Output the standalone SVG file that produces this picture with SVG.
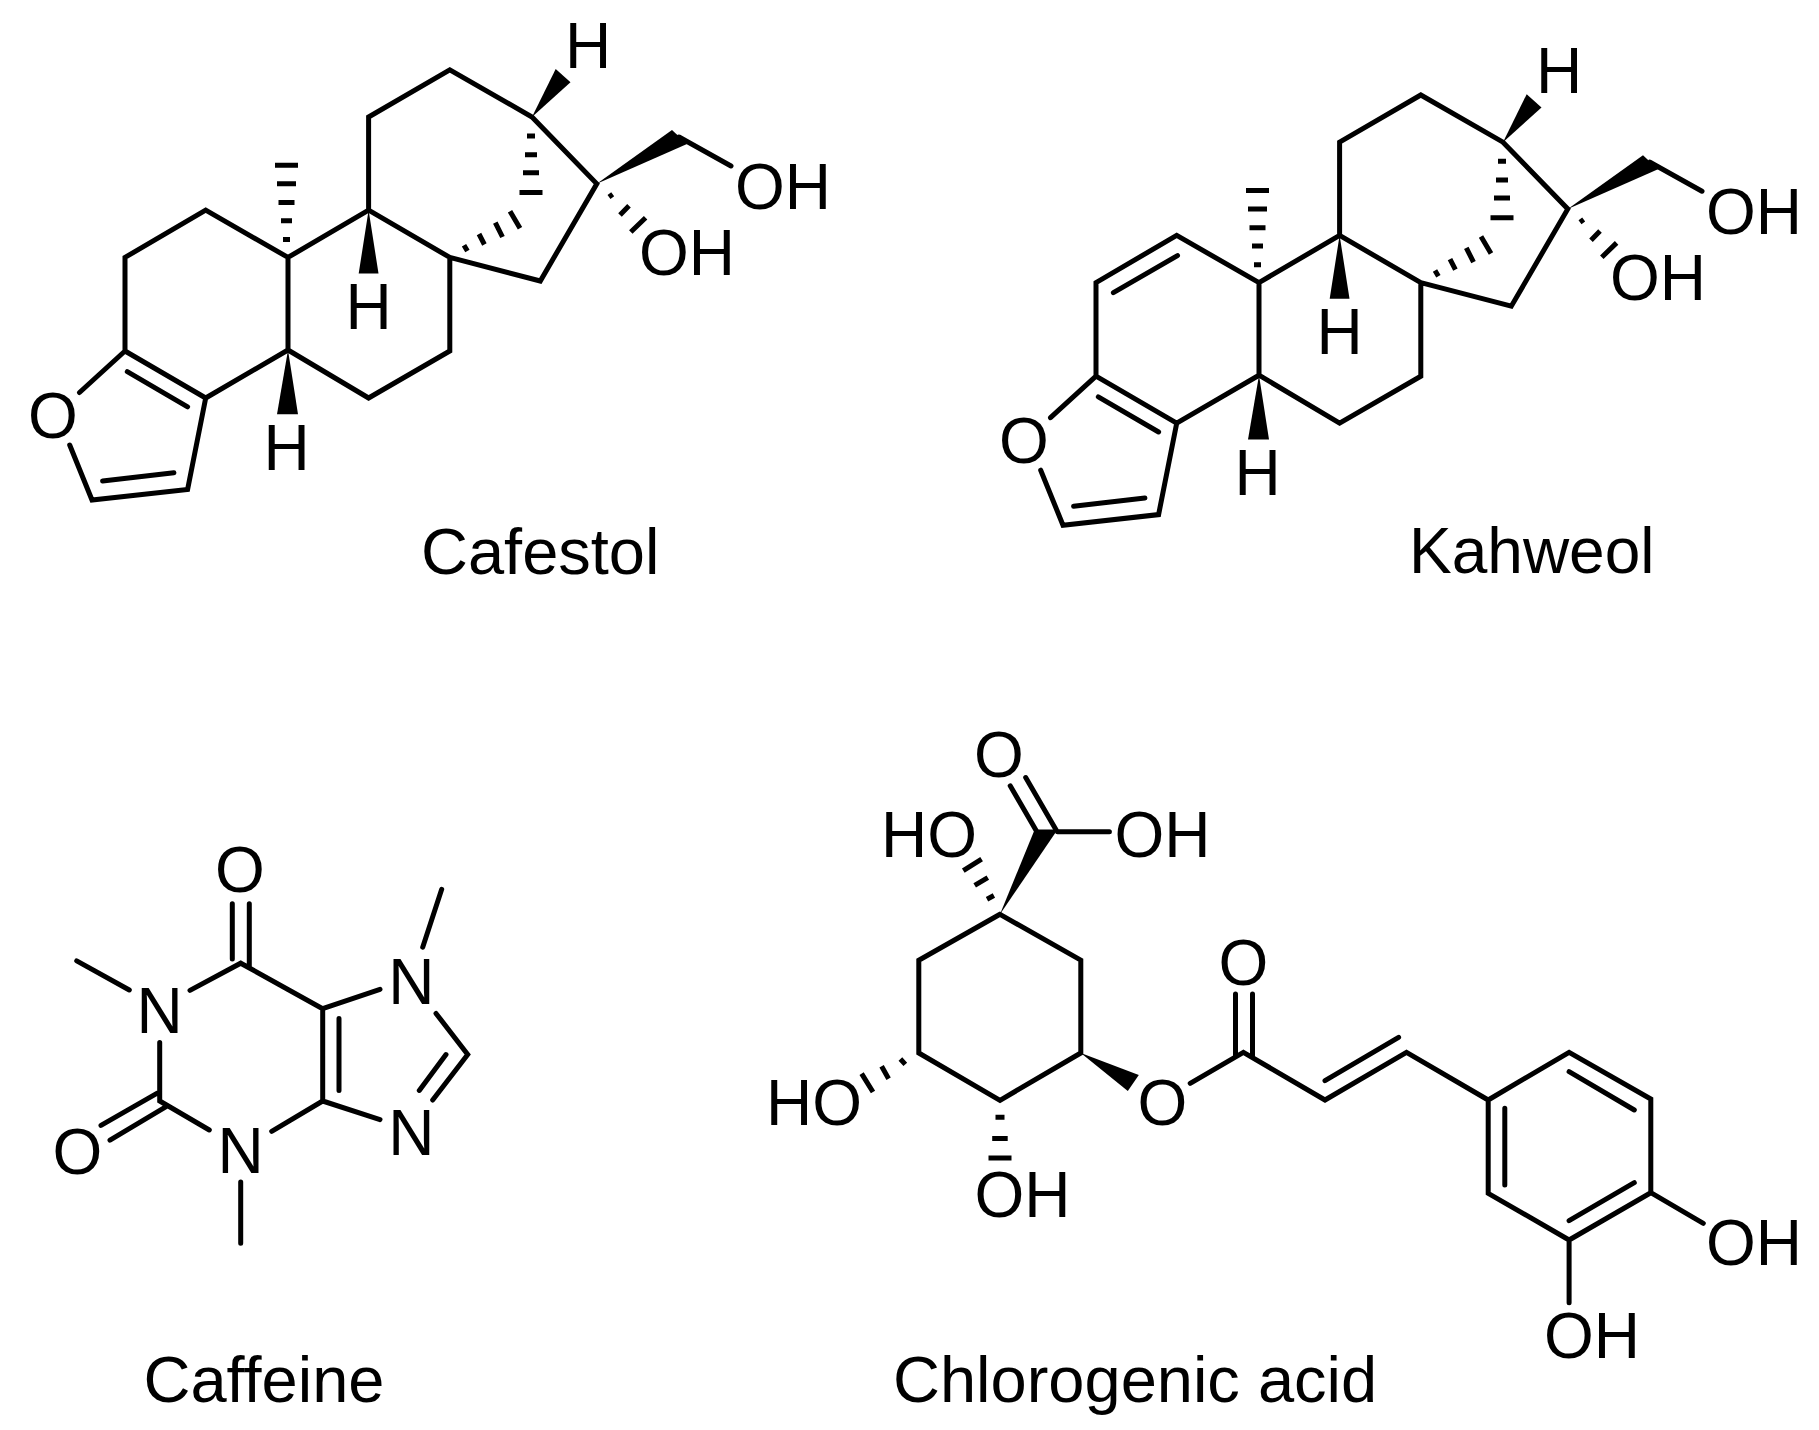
<svg xmlns="http://www.w3.org/2000/svg" width="1819" height="1430" viewBox="0 0 1819 1430">
<style>
.b{fill:none;stroke:#000;stroke-width:5;stroke-linecap:round;stroke-linejoin:miter}
.h{fill:none;stroke:#000;stroke-width:5;stroke-linecap:butt}
.w{fill:#000;stroke:none}
text{font-family:"Liberation Sans",Arial,sans-serif;font-size:64px;fill:#000}
.m{text-anchor:middle}
.l{font-size:65px}
</style>
<defs>
<g id="core">
<path class="b" d="M79.5 392.5L125 351V257.4L205.7 210.2L288 257.4V350L205.7 398L125 351M288 257.4L368.6 210.2L449.8 257.4V351L368.6 398L288 350M368.6 210.2V117L449.8 69.8L532 117L596.8 183.8L540.3 281L449.8 257.4M679 137L731 166M205.7 398L187.6 489.4L92 500L69.7 445M102.6 481L173.9 472.8M127.3 371.7L187.6 406.8"/>
<polygon class="w" points="288,350 277,414.3 298,414.3"/>
<polygon class="w" points="368.6,210 358.7,273.6 378.5,273.6"/>
<polygon class="w" points="532,117 555.7,69 570.5,82.3"/>
<polygon class="w" points="596.8,183.8 672,130 687,144"/>
<path class="h" d="M283 239.6h7M281 220.8h11M278.5 202.6h16M277 183.8h19M275 165.3h23M527 136h8M525 154.7h12M523 172.8h16M519.5 192.5h23M510 211.3L520 228.3M495.3 222.6L502.5 237M479 234L484.4 244.5M464 245.3L467.4 251M609 197L612.7 194.3M620 215L629 205.7M630.8 232L645.6 217.7"/>
</g>
</defs>
<g id="cafestol">
<use href="#core"/>
<g>
<text x="53" y="438" class="m">O</text>
<text x="286.5" y="470" class="m">H</text>
<text x="368.6" y="329" class="m">H</text>
<text x="588" y="68" class="m">H</text>
<text x="735" y="209">OH</text>
<text x="639" y="275">OH</text>
<text x="421" y="574" class="l">Cafestol</text>
</g>
</g>
<g id="kahweol" transform="translate(971 25.2)">
<use href="#core"/>
<path class="b" d="M206.5 230.4L142.4 267.5"/>
<g>
<text x="53" y="438" class="m">O</text>
<text x="286.5" y="470" class="m">H</text>
<text x="368.6" y="329" class="m">H</text>
<text x="588" y="68" class="m">H</text>
<text x="735" y="209">OH</text>
<text x="639" y="275">OH</text>
<text x="438" y="548">Kahweol</text>
</g>
</g>
<g id="caffeine">
<path class="b" d="M190 990.4L240.7 963.2L322.7 1008.7V1101L271.7 1131.3M322.7 1008.7L380 989.3M322.7 1101L380 1119.6M339 1018.4V1090.4M436 1013.4L467.7 1054.6L432.7 1100M446 1054.6L419.3 1090.4M159.7 1042.6V1101L209.3 1130M232.3 903.7V959M249.3 903.7V967M157.3 1093.2L101 1125.4M165.7 1106.8L110 1140.2M129.3 990L76.7 960.9M240.7 1181.9V1243.3M422.7 947.2L441.7 889.3"/>
<text x="240" y="892" class="m">O</text>
<text x="159.5" y="1033" class="m">N</text>
<text x="77.3" y="1173.5" class="m">O</text>
<text x="240.7" y="1173" class="m">N</text>
<text x="411.3" y="1004" class="m">N</text>
<text x="411.3" y="1155" class="m">N</text>
<text x="143.5" y="1402" class="l">Caffeine</text>
</g>
<g id="chlorogenic-acid">
<path class="b" d="M1000 914.3L918.8 960.2V1053L1000 1100.3L1080.8 1053V960.2L1000 914.3M1057.6 831.7H1109.4M1010.2 785.8L1036 830.3M1025.7 777.5L1056.3 830.3M1190.2 1083.3L1243.4 1052.3L1325 1100L1406.5 1052.3L1488.2 1100L1569.1 1052.3L1650.8 1099V1192.7L1569.1 1240L1488.2 1193.3V1100M1235.5 994V1056M1252.5 994V1056M1325 1080.7L1398.6 1037.3M1504.8 1108.3V1185M1569.1 1071.7L1634.3 1110M1569.1 1220.7L1634.3 1182.7M1650.8 1192.7L1703.3 1223.3M1569.1 1240V1302.7"/>
<polygon class="w" points="1000,914.3 1034.7,829.5 1057.6,829.5"/>
<polygon class="w" points="1080.8,1053 1138.8,1075 1127.8,1091"/>
<path class="h" d="M987 899.2L993.9 895.5M974.7 885.4L987.8 877.6M963.3 870.7L981.6 859.2M900.4 1059L905.3 1064.4M881.6 1066.3L888.6 1078.7M861.6 1073.6L873 1092M995.5 1117.2h9M992.2 1138.4h15.5M988.5 1158h23"/>
<text x="999" y="777" class="m">O</text>
<text x="881" y="857">HO</text>
<text x="1114.5" y="857">OH</text>
<text x="766" y="1125">HO</text>
<text x="974.5" y="1217">OH</text>
<text x="1162.4" y="1125" class="m">O</text>
<text x="1243.4" y="985" class="m">O</text>
<text x="1706" y="1265">OH</text>
<text x="1544" y="1358">OH</text>
<text x="893" y="1402" class="l">Chlorogenic acid</text>
</g>
</svg>
